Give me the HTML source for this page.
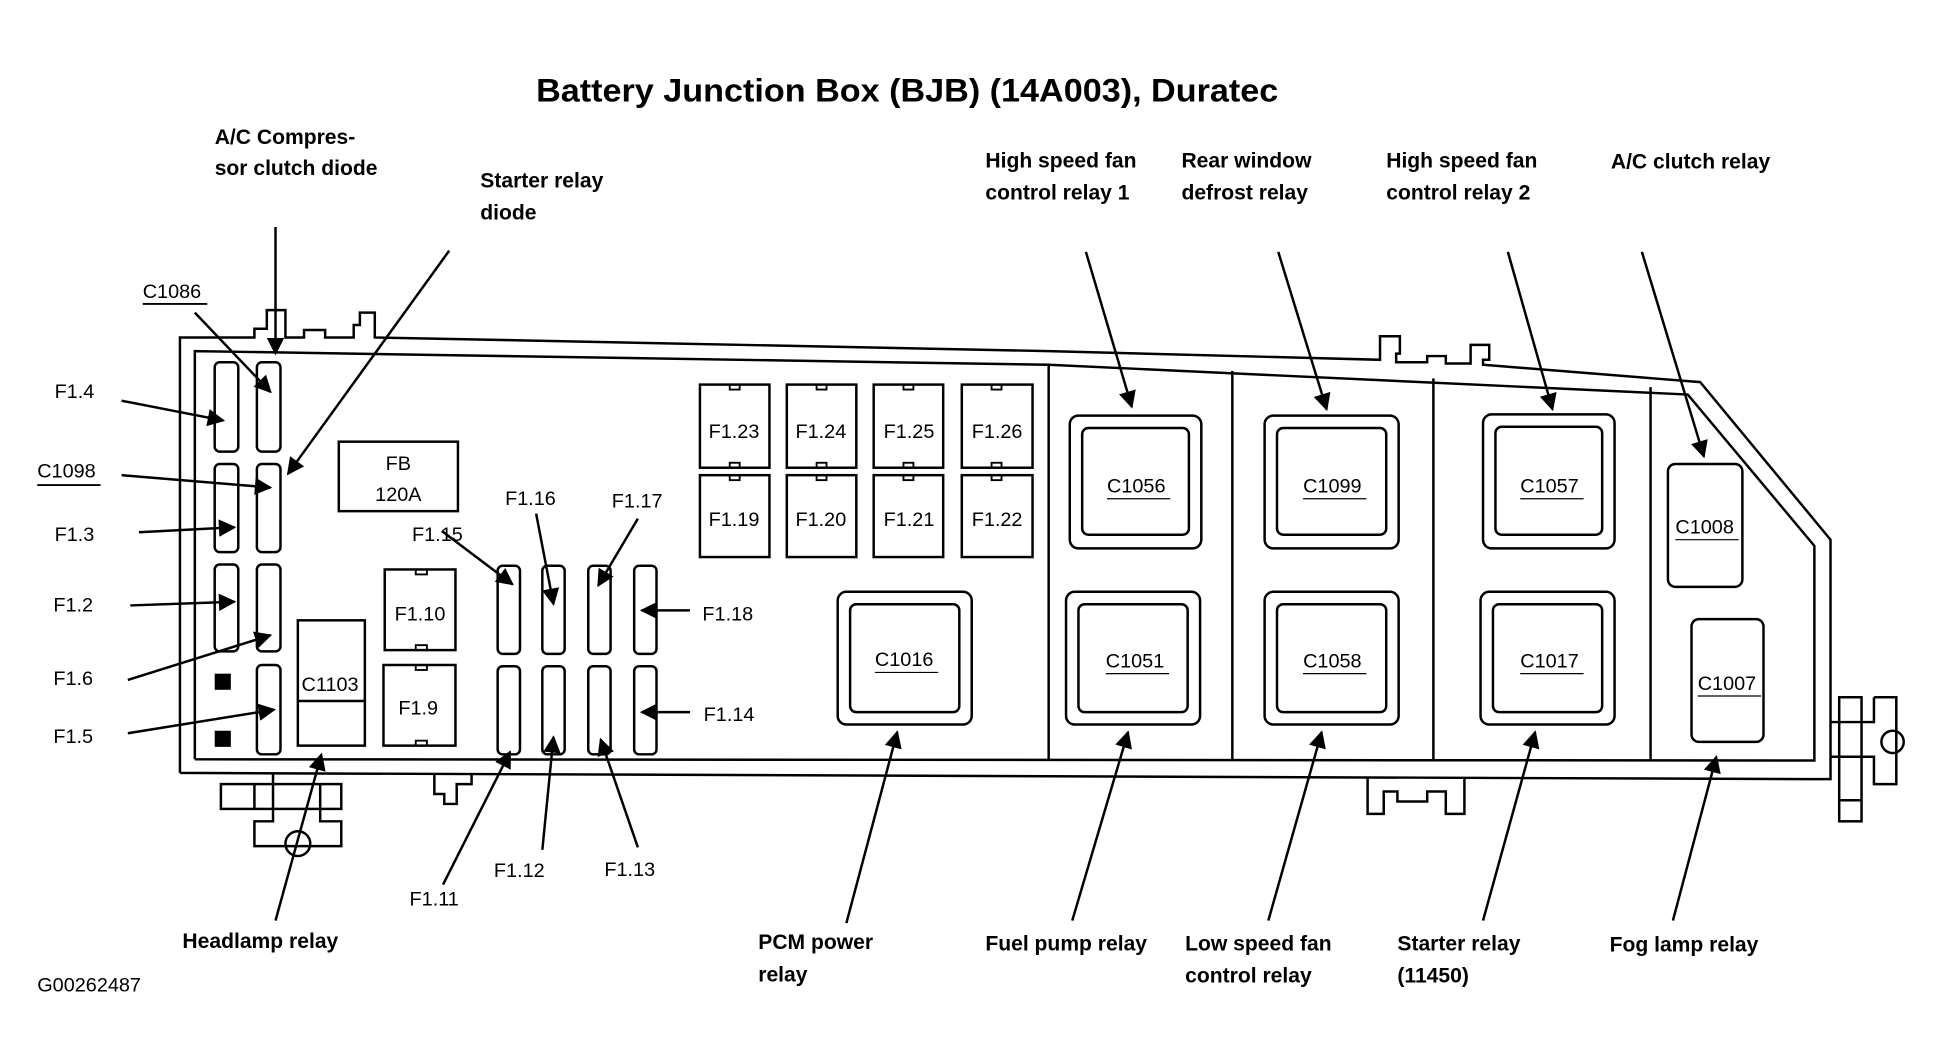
<!DOCTYPE html>
<html><head><meta charset="utf-8"><style>
html,body{margin:0;padding:0;background:#fff;}
svg{display:block;}
text{font-family:"Liberation Sans",Arial,sans-serif;fill:#000;}
.b{font-weight:bold;font-size:17px;}
.n{font-size:16px;}
</style></head><body>
<svg width="1936" height="1062" viewBox="0 0 1560 856" preserveAspectRatio="none" xmlns="http://www.w3.org/2000/svg">
<defs>
<marker id="ar" viewBox="0 0 10 10" refX="9" refY="5" markerWidth="18" markerHeight="14" orient="auto" markerUnits="userSpaceOnUse"><path d="M0,0 L10,5 L0,10 z" fill="#000"/></marker></defs>
<g fill="none" stroke="#000" stroke-width="2">
<path d="M145,623 L145,272 L205,272 L205,265 L215,265 L215,250 L230,250 L230,272 L245,272 L245,266 L262,266 L262,272 L285,272 L285,262 L290,262 L290,252 L302,252 L302,272 L845,283 L1112,290 L1112,271 L1128,271 L1128,285 L1125,285 L1125,292 L1150,292 L1150,287 L1165,287 L1165,293 L1185,293 L1185,278 L1200,278 L1200,290 L1195,290 L1195,294 L1370,308 L1475,435 L1475,628 L1455,628 L1455,628 L145,623"/>
<path d="M157,612 L157,283 L845,294 L1360,318 L1462,440 L1462,613 L157,612"/>
<path d="M350,624 L350,640 L358,640 L358,648 L368,648 L368,632 L380,632 L380,624"/>
<path d="M1102,626 L1102,656 L1115,656 L1115,638 L1126,638 L1126,646 L1150,646 L1150,638 L1165,638 L1165,656 L1180,656 L1180,627"/>
<line x1="845" y1="294" x2="845" y2="612"/><line x1="993" y1="299" x2="993" y2="612"/>
<line x1="1155" y1="305" x2="1155" y2="612"/><line x1="1330" y1="312" x2="1330" y2="612"/>
<rect x="173" y="292" width="19" height="72" rx="4"/><rect x="207" y="292" width="19" height="72" rx="4"/>
<rect x="173" y="374" width="19" height="71" rx="4"/><rect x="207" y="374" width="19" height="71" rx="4"/>
<rect x="173" y="455" width="19" height="70" rx="4"/><rect x="207" y="455" width="19" height="70" rx="4"/>
<rect x="207" y="536" width="19" height="72" rx="4"/>
<rect x="273" y="356" width="96" height="56"/>
<rect x="240" y="500" width="54" height="101"/><line x1="240" y1="565" x2="294" y2="565"/>
<rect x="310" y="459" width="57" height="65"/><rect x="309" y="536" width="58" height="65"/>
<rect x="401" y="456" width="18" height="71" rx="4"/><rect x="437" y="456" width="18" height="71" rx="4"/><rect x="474" y="456" width="18" height="71" rx="4"/><rect x="511" y="456" width="18" height="71" rx="4"/>
<rect x="401" y="537" width="18" height="71" rx="4"/><rect x="437" y="537" width="18" height="71" rx="4"/><rect x="474" y="537" width="18" height="71" rx="4"/><rect x="511" y="537" width="18" height="71" rx="4"/>
<rect x="564" y="310" width="56" height="67"/><rect x="634" y="310" width="56" height="67"/><rect x="704" y="310" width="56" height="67"/><rect x="775" y="310" width="57" height="67"/>
<rect x="564" y="383" width="56" height="66"/><rect x="634" y="383" width="56" height="66"/><rect x="704" y="383" width="56" height="66"/><rect x="775" y="383" width="57" height="66"/>
<rect x="675" y="477" width="108" height="107" rx="7"/><rect x="685" y="487" width="88" height="87" rx="5"/>
<rect x="862" y="335" width="106" height="107" rx="7"/><rect x="872" y="345" width="86" height="86" rx="5"/>
<rect x="859" y="477" width="108" height="107" rx="7"/><rect x="869" y="487" width="88" height="87" rx="5"/>
<rect x="1019" y="335" width="108" height="107" rx="7"/><rect x="1029" y="345" width="88" height="86" rx="5"/>
<rect x="1019" y="477" width="108" height="107" rx="7"/><rect x="1029" y="487" width="88" height="87" rx="5"/>
<rect x="1195" y="334" width="106" height="108" rx="7"/><rect x="1205" y="344" width="86" height="87" rx="5"/>
<rect x="1193" y="477" width="108" height="107" rx="7"/><rect x="1203" y="487" width="88" height="87" rx="5"/>
<rect x="1344" y="374" width="60" height="99" rx="6"/><rect x="1363" y="499" width="58" height="99" rx="6"/>
<path d="M1475,582 L1500,582 M1475,610 L1500,610"/>
<rect x="1482" y="562" width="18" height="100"/>
<path d="M1510,562 L1528,562 L1528,632 L1510,632 L1510,610 L1500,610 M1510,562 L1510,582 L1500,582"/>
<line x1="1500" y1="645" x2="1482" y2="645"/>
<circle cx="1525" cy="598" r="9"/>
<rect x="178" y="632" width="97" height="20"/><line x1="205" y1="632" x2="205" y2="652"/><line x1="220" y1="624" x2="220" y2="652"/><line x1="258" y1="632" x2="258" y2="652"/>
<path d="M220,652 L220,662 L205,662 L205,682 L275,682 L275,662 L258,662 L258,652"/>
<circle cx="240" cy="680" r="10"/>
<g stroke-width="1.5">
<rect x="335" y="459" width="9" height="4"/><rect x="335" y="520" width="9" height="4"/><rect x="335" y="536" width="9" height="4"/><rect x="335" y="597" width="9" height="4"/>
<rect x="588" y="310" width="8" height="4"/><rect x="658" y="310" width="8" height="4"/><rect x="728" y="310" width="8" height="4"/><rect x="799" y="310" width="8" height="4"/>
<rect x="588" y="373" width="8" height="4"/><rect x="658" y="373" width="8" height="4"/><rect x="728" y="373" width="8" height="4"/><rect x="799" y="373" width="8" height="4"/>
<rect x="588" y="383" width="8" height="4"/><rect x="658" y="383" width="8" height="4"/><rect x="728" y="383" width="8" height="4"/><rect x="799" y="383" width="8" height="4"/>
</g>
</g>
<rect x="173" y="543" width="13" height="13"/><rect x="173" y="589" width="13" height="13"/>
<g stroke="#000" stroke-width="2" fill="none" marker-end="url(#ar)">
<line x1="222" y1="183" x2="222" y2="285"/>
<line x1="157" y1="252" x2="218" y2="316"/>
<line x1="362" y1="202" x2="232" y2="382"/>
<line x1="98" y1="323" x2="180" y2="339"/>
<line x1="98" y1="383" x2="218" y2="393"/>
<line x1="112" y1="429" x2="189" y2="425"/>
<line x1="105" y1="488" x2="189" y2="485"/>
<line x1="103" y1="548" x2="218" y2="512"/>
<line x1="103" y1="591" x2="221" y2="572"/>
<line x1="222" y1="742" x2="259" y2="608"/>
<line x1="356" y1="428" x2="413" y2="471"/>
<line x1="432" y1="414" x2="446" y2="487"/>
<line x1="514" y1="418" x2="482" y2="472"/>
<line x1="556" y1="492" x2="517" y2="492"/>
<line x1="556" y1="574" x2="517" y2="574"/>
<line x1="357" y1="713" x2="411" y2="606"/>
<line x1="437" y1="685" x2="446" y2="594"/>
<line x1="514" y1="683" x2="484" y2="596"/>
<line x1="682" y1="744" x2="723" y2="590"/>
<line x1="875" y1="203" x2="912" y2="328"/>
<line x1="1030" y1="203" x2="1069" y2="330"/>
<line x1="1215" y1="203" x2="1251" y2="330"/>
<line x1="1323" y1="203" x2="1373" y2="368"/>
<line x1="864" y1="742" x2="909" y2="590"/>
<line x1="1022" y1="742" x2="1065" y2="590"/>
<line x1="1195" y1="742" x2="1237" y2="590"/>
<line x1="1348" y1="742" x2="1383" y2="610"/>
</g>
<text x="432" y="82" font-weight="bold" font-size="26" textLength="598" lengthAdjust="spacingAndGlyphs">Battery Junction Box (BJB) (14A003), Duratec</text>
<text class="b" x="173" y="116">A/C Compres-</text><text class="b" x="173" y="141">sor clutch diode</text>
<text class="b" x="387" y="151">Starter relay</text><text class="b" x="387" y="177">diode</text>
<text class="b" x="794" y="135">High speed fan</text><text class="b" x="794" y="161">control relay 1</text>
<text class="b" x="952" y="135">Rear window</text><text class="b" x="952" y="161">defrost relay</text>
<text class="b" x="1117" y="135">High speed fan</text><text class="b" x="1117" y="161">control relay 2</text>
<text class="b" x="1298" y="136">A/C clutch relay</text>
<text class="n" x="115" y="240">C1086</text><line x1="115" y1="245" x2="167" y2="245" stroke="#000" stroke-width="1.5"/>
<text class="n" x="44" y="321">F1.4</text>
<text class="n" x="30" y="385">C1098</text><line x1="30" y1="391" x2="81" y2="391" stroke="#000" stroke-width="1.5"/>
<text class="n" x="44" y="436">F1.3</text><text class="n" x="43" y="493">F1.2</text>
<text class="n" x="43" y="552">F1.6</text><text class="n" x="43" y="599">F1.5</text>
<text class="n" x="321" y="379" text-anchor="middle">FB</text><text class="n" x="321" y="404" text-anchor="middle">120A</text>
<text class="n" x="243" y="557">C1103</text>
<text class="n" x="318" y="500">F1.10</text><text class="n" x="321" y="576">F1.9</text>
<text class="n" x="332" y="436">F1.15</text><text class="n" x="407" y="407">F1.16</text><text class="n" x="493" y="409">F1.17</text>
<text class="n" x="566" y="500">F1.18</text><text class="n" x="567" y="581">F1.14</text>
<text class="n" x="330" y="730">F1.11</text><text class="n" x="398" y="707">F1.12</text><text class="n" x="487" y="706">F1.13</text>
<text class="n" x="571" y="353">F1.23</text><text class="n" x="641" y="353">F1.24</text><text class="n" x="712" y="353">F1.25</text><text class="n" x="783" y="353">F1.26</text>
<text class="n" x="571" y="424">F1.19</text><text class="n" x="641" y="424">F1.20</text><text class="n" x="712" y="424">F1.21</text><text class="n" x="783" y="424">F1.22</text>
<g font-size="16">
<text x="705" y="537">C1016</text><line x1="705" y1="542" x2="756" y2="542" stroke="#000"/>
<text x="892" y="397">C1056</text><line x1="892" y1="402" x2="943" y2="402" stroke="#000"/>
<text x="891" y="538">C1051</text><line x1="891" y1="543" x2="942" y2="543" stroke="#000"/>
<text x="1050" y="397">C1099</text><line x1="1050" y1="402" x2="1101" y2="402" stroke="#000"/>
<text x="1050" y="538">C1058</text><line x1="1050" y1="543" x2="1101" y2="543" stroke="#000"/>
<text x="1225" y="397">C1057</text><line x1="1225" y1="402" x2="1276" y2="402" stroke="#000"/>
<text x="1225" y="538">C1017</text><line x1="1225" y1="543" x2="1276" y2="543" stroke="#000"/>
<text x="1350" y="430">C1008</text><line x1="1350" y1="435" x2="1401" y2="435" stroke="#000"/>
<text x="1368" y="556">C1007</text><line x1="1368" y1="561" x2="1419" y2="561" stroke="#000"/>
</g>
<text class="b" x="147" y="764">Headlamp relay</text>
<text class="b" x="611" y="765">PCM power</text><text class="b" x="611" y="791">relay</text>
<text class="b" x="794" y="766">Fuel pump relay</text>
<text class="b" x="955" y="766">Low speed fan</text><text class="b" x="955" y="792">control relay</text>
<text class="b" x="1126" y="766">Starter relay</text><text class="b" x="1126" y="792">(11450)</text>
<text class="b" x="1297" y="767">Fog lamp relay</text>
<text class="n" x="30" y="799">G00262487</text>
</svg>
</body></html>
